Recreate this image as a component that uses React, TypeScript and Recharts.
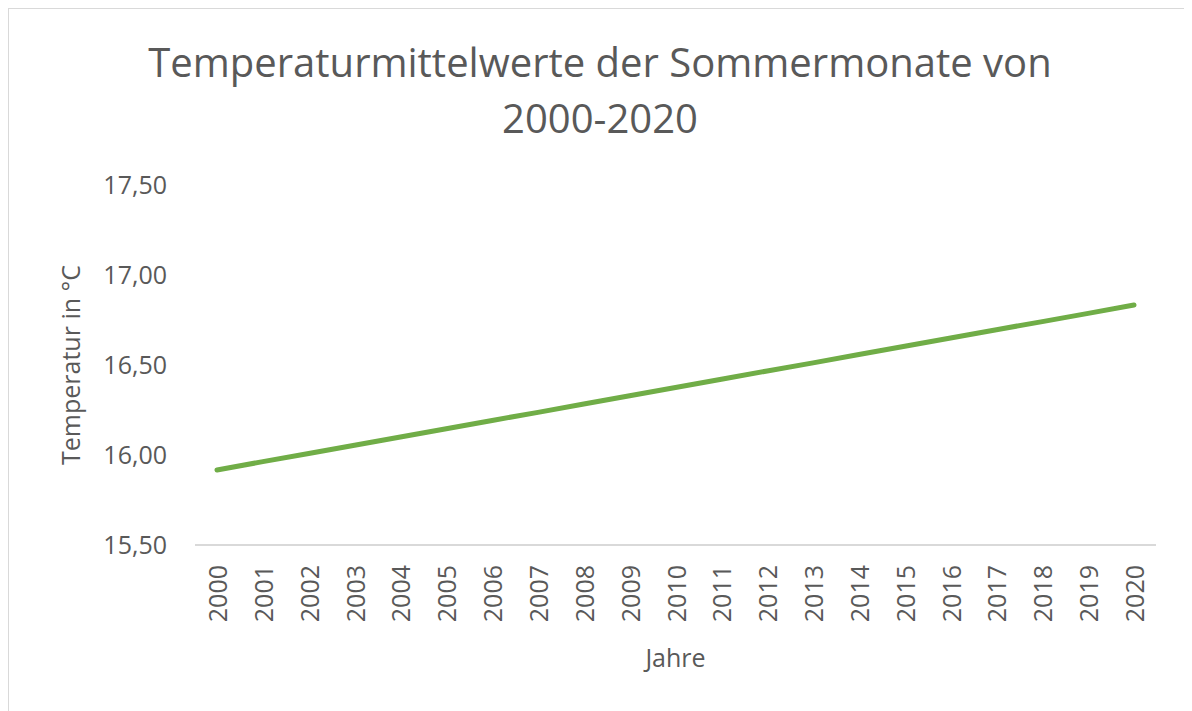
import React from 'react';
import { LineChart, Line, XAxis, YAxis, Label } from 'recharts';

const years = ['2000','2001','2002','2003','2004','2005','2006','2007','2008','2009','2010','2011','2012','2013','2014','2015','2016','2017','2018','2019','2020'];
const temperatures = [15.917,15.963,16.008,16.054,16.100,16.146,16.192,16.237,16.283,16.329,16.375,16.421,16.467,16.512,16.558,16.604,16.650,16.696,16.741,16.787,16.833];
const yTicks = [15.5, 16.0, 16.5, 17.0, 17.5];
const titleLines = ['Temperaturmittelwerte der Sommermonate von', '2000-2020'];

const data = years.map((y, i) => ({ year: y, temp: temperatures[i] }));

const FONT = '"Open Sans", sans-serif';
const GREY = '#595959';

const XTick = (props: any) => {
  const { x, y, payload } = props;
  return (
    <text
      transform={`translate(${x},${y + 12}) rotate(-90)`}
      textAnchor="end"
      dominantBaseline="central"
      fill={GREY}
      fontSize={25}
      fontFamily={FONT}
    >
      {payload.value}
    </text>
  );
};

const fmt = (v: number) => v.toFixed(2).replace('.', ',');

export default function App() {
  return (
    <div style={{ position: 'relative', width: 1184, height: 703, background: '#fff' }}>
      <div style={{ position: 'absolute', left: -1, top: -1, width: 1184, height: 740, border: '2px solid #d9d9d9', boxSizing: 'border-box' }} />
      <div style={{ position: 'absolute', left: 0, top: 26, width: 1184, textAlign: 'center', fontFamily: FONT, fontSize: 40, color: GREY, lineHeight: '56px' }}>
        {titleLines.map((t) => (
          <div key={t}>{t}</div>
        ))}
      </div>
      <div style={{ position: 'absolute', left: 0, top: 0 }}>
        <LineChart width={1184} height={703} data={data} margin={{ top: 177, right: 36, left: 87, bottom: 46 }}>
          <XAxis
            dataKey="year"
            height={120}
            tick={<XTick />}
            tickLine={false}
            axisLine={{ stroke: '#d9d9d9', strokeWidth: 2 }}
            interval={0}
            padding={{ left: 22, right: 22 }}
          >
            <Label
              content={(p: any) => {
                const vb = p.viewBox;
                return (
                  <text x={vb.x + vb.width / 2} y={vb.y + 112} textAnchor="middle" dominantBaseline="central" fill={GREY} fontSize={25} fontFamily={FONT}>
                    Jahre
                  </text>
                );
              }}
            />
          </XAxis>
          <YAxis
            width={100}
            domain={[15.5, 17.5]}
            ticks={yTicks}
            tickFormatter={fmt}
            axisLine={false}
            tickLine={false}
            tickSize={0}
            tickMargin={28}
            tick={{ fill: GREY, fontSize: 25, fontFamily: FONT }}
          >
            <Label
              content={(p: any) => {
                const vb = p.viewBox;
                const cx = vb.x - 25;
                const cy = vb.y + vb.height / 2;
                return (
                  <text x={cx} y={cy} transform={`rotate(-90, ${cx}, ${cy})`} textAnchor="middle" dominantBaseline="central" fill={GREY} fontSize={25} fontFamily={FONT}>
                    Temperatur in °C
                  </text>
                );
              }}
            />
          </YAxis>
          <Line type="linear" dataKey="temp" stroke="#70AD47" strokeWidth={5} dot={false} isAnimationActive={false} strokeLinecap="round" />
        </LineChart>
      </div>
    </div>
  );
}
